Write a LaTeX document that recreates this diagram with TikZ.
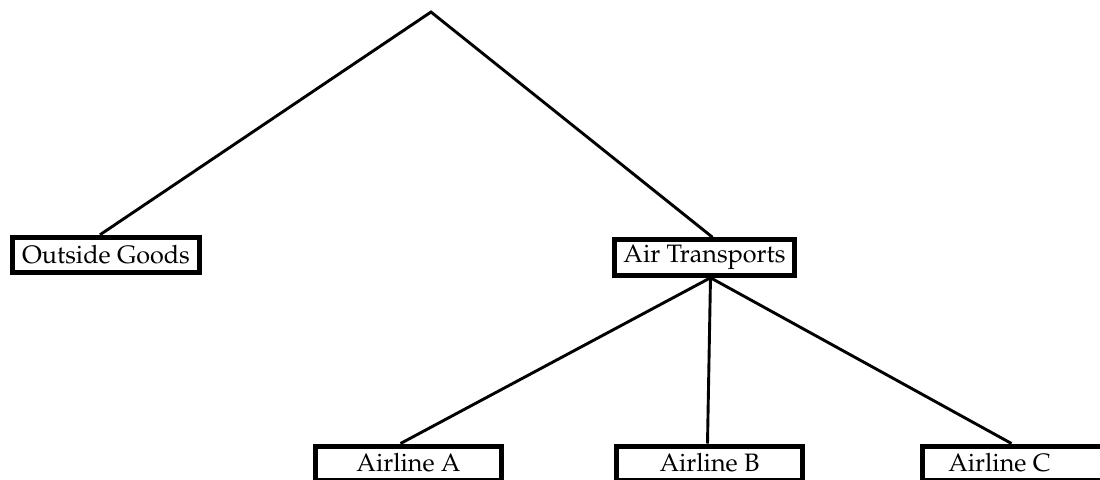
\documentclass[tikz,border=0pt]{standalone}
\usepackage[T1]{fontenc}
\usepackage{mathpazo}
\usepackage{tikz}
\usetikzlibrary{arrows}

\begin{document}
\begin{tikzpicture}[x=0.5pt, y=-0.5pt,
        topbox/.style={draw=black, line width=2.5pt, inner sep=0pt, minimum height=17.75pt, font=\fontsize{12.6}{15}\selectfont},
        lowbox/.style={draw=black, line width=2.5pt, inner sep=0pt, minimum height=17pt, minimum width=93pt, font=\fontsize{12.6}{15}\selectfont},
        branch/.style={black, line width=1.45pt}]
        \useasboundingbox (0,0) rectangle (1100,479);

        \coordinate (root) at (431,12);

        \node[topbox, minimum width=93.5pt] (goods) at (106,255) {Outside Goods};
        \node[topbox, minimum width=90pt] (air) at (704.5,257.5) {Air Transports};

        \node[lowbox] (lineA) at (408.5,463) {Airline A};
        \node[lowbox] (lineB) at (709.5,463) {Airline B};
        \node[lowbox] (lineC) at (1015.5,463) {\hspace{-16pt}Airline C};

        \draw [branch] ([xshift=-3pt]goods.north) -- (root) -- ([xshift=4pt]air.north);

        \draw [branch] ([xshift=3pt]air.south) -- ([xshift=-4pt]lineA.north);
        \draw [branch] ([xshift=3pt]air.south) -- ([xshift=-1pt]lineB.north);
        \draw [branch] ([xshift=3pt]air.south) -- ([xshift=-2pt]lineC.north);
        \end{tikzpicture}
\end{document}
